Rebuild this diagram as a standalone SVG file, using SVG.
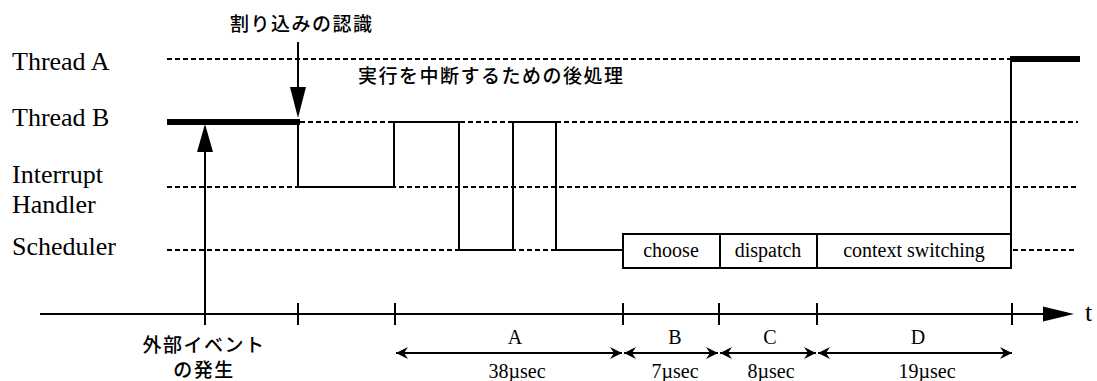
<svg xmlns="http://www.w3.org/2000/svg" width="1097" height="381" viewBox="0 0 1097 381">
<style>
.lbl{font-family:"Liberation Serif","Times New Roman",serif;font-size:26px;fill:#000}
.jp{font-family:"Noto Sans CJK JP",sans-serif;font-size:19px;font-weight:500;fill:#000;letter-spacing:1.5px}
.sm{font-family:"Liberation Serif","Times New Roman",serif;font-size:20px;fill:#000;text-anchor:middle}
.dash{stroke:#000;stroke-width:2;stroke-dasharray:5 3;fill:none}
.sig{stroke:#000;stroke-width:2;fill:none}
.thick{stroke:#000;stroke-width:6;fill:none}
</style>
<defs>
<marker id="dh" viewBox="0 0 12 12" refX="12" refY="6" markerWidth="12" markerHeight="12" markerUnits="userSpaceOnUse" orient="auto-start-reverse">
<path d="M0,0 L12,6 L0,12 L4,6 Z" fill="#000"/>
</marker>
</defs>
<rect width="1097" height="381" fill="#fff"/>
<g id="lane-labels">
<text class="lbl" x="12" y="70">Thread A</text>
<text class="lbl" x="12" y="126">Thread B</text>
<text class="lbl" x="12" y="183">Interrupt</text>
<text class="lbl" x="12" y="213">Handler</text>
<text class="lbl" x="12" y="255">Scheduler</text>
</g>
<g id="connectors">
<line class="dash" x1="167" y1="59" x2="1010" y2="59"/>
<line class="dash" x1="300" y1="122" x2="1078" y2="122"/>
<line class="dash" x1="167" y1="187" x2="1078" y2="187"/>
<line class="dash" x1="167" y1="250" x2="623" y2="250"/>
<line class="dash" x1="1013" y1="250" x2="1075" y2="250"/>
<line class="thick" x1="167" y1="122" x2="300" y2="122"/>
<line class="thick" x1="1010" y1="59" x2="1080" y2="59"/>
<polyline class="sig" points="298,122 298,187 394,187 394,122 459,122 459,250 513,250 513,122 556,122 556,250 623,250"/>
<line class="sig" x1="1011" y1="233" x2="1011" y2="57"/>
<line class="sig" x1="298" y1="42" x2="298" y2="90"/>
<path d="M290,87 L306,87 L298,118 Z" fill="#000"/>
<line class="sig" x1="205" y1="325" x2="205" y2="150"/>
<path d="M197,152 L213,152 L205,124 Z" fill="#000"/>
<line class="sig" x1="40" y1="314" x2="1045" y2="314"/>
<path d="M1043,306.5 L1074,314 L1043,321.5 Z" fill="#000"/>
<g class="sig">
<line x1="298" y1="303" x2="298" y2="325"/>
<line x1="395" y1="303" x2="395" y2="325"/>
<line x1="623" y1="303" x2="623" y2="325"/>
<line x1="719" y1="303" x2="719" y2="325"/>
<line x1="817" y1="303" x2="817" y2="325"/>
<line x1="1012" y1="303" x2="1012" y2="325"/>
</g>
<line class="sig" x1="396" y1="353" x2="622" y2="353" marker-start="url(#dh)" marker-end="url(#dh)"/>
<line class="sig" x1="624" y1="353" x2="718" y2="353" marker-start="url(#dh)" marker-end="url(#dh)"/>
<line class="sig" x1="720" y1="353" x2="816" y2="353" marker-start="url(#dh)" marker-end="url(#dh)"/>
<line class="sig" x1="818" y1="353" x2="1012" y2="353" marker-start="url(#dh)" marker-end="url(#dh)"/>
</g>
<g id="scheduler-box">
<rect x="623" y="234" width="388" height="34" fill="#fff" stroke="#000" stroke-width="2"/>
<line class="sig" x1="720" y1="234" x2="720" y2="268"/>
<line class="sig" x1="817" y1="234" x2="817" y2="268"/>
<text class="sm" x="671" y="257">choose</text>
<text class="sm" x="768" y="257">dispatch</text>
<text class="sm" x="914" y="257">context switching</text>
</g>
<g id="annotations">
<text class="jp" x="230" y="31">割り込みの認識</text>
<text class="jp" x="358" y="83">実行を中断するための後処理</text>
<text class="jp" x="204" y="352" text-anchor="middle">外部イベント</text>
<text class="jp" x="204" y="377" text-anchor="middle">の発生</text>
<text class="lbl" x="1085" y="321">t</text>
<text class="sm" x="515" y="344">A</text>
<text class="sm" x="675" y="344">B</text>
<text class="sm" x="770" y="344">C</text>
<text class="sm" x="918" y="344">D</text>
<text class="sm" x="517" y="378">38µsec</text>
<text class="sm" x="675" y="378">7µsec</text>
<text class="sm" x="771" y="378">8µsec</text>
<text class="sm" x="927" y="378">19µsec</text>
</g>
</svg>
